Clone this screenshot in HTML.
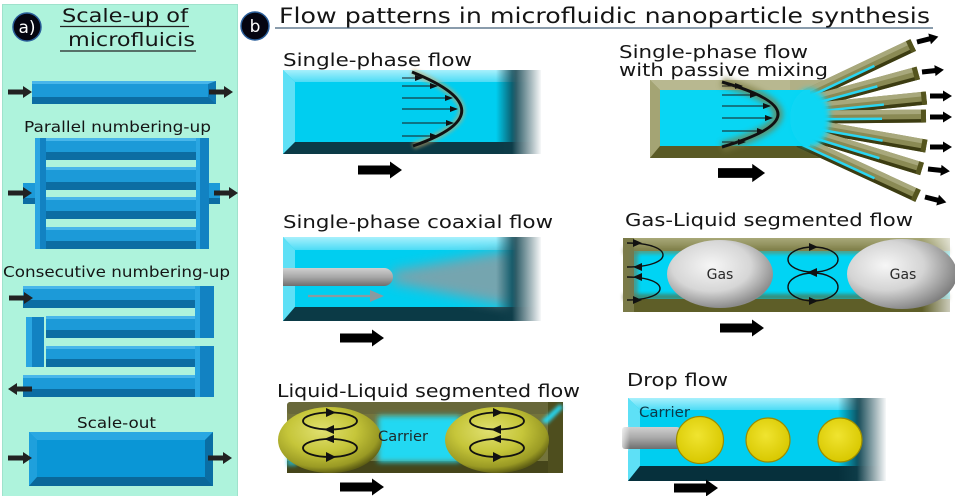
<!DOCTYPE html>
<html><head><meta charset="utf-8">
<style>
html,body{margin:0;padding:0;background:#fff;width:955px;height:496px;overflow:hidden}
svg{display:block}
text{font-family:"DejaVu Sans","Liberation Sans",sans-serif;fill:#151515}
</style></head><body>
<svg width="955" height="496" viewBox="0 0 955 496" xmlns="http://www.w3.org/2000/svg">
<defs>
 <path id="arrS" d="M0,-2.5 H15 V-6 L24,0 L15,6 V2.5 H0 Z" fill="#222"/>
 <path id="arrB" d="M0,-4.5 H32 V-8.5 L44,0 L32,8.5 V4.5 H0 Z" fill="#000"/>
 <path id="arrF" d="M0,-2.5 H13 V-5.5 L22,0 L13,5.5 V2.5 H0 Z" fill="#000"/>
 <marker id="mh" markerWidth="8" markerHeight="6" refX="7" refY="3" orient="auto" markerUnits="userSpaceOnUse"><path d="M0,0 L8,3 L0,6 Z" fill="#111"/></marker>
 <linearGradient id="fadeR" x1="0" x2="1"><stop offset="0" stop-color="#fff" stop-opacity="0"/><stop offset="1" stop-color="#fff" stop-opacity="1"/></linearGradient>
 <linearGradient id="darkEnd" x1="0" x2="1"><stop offset="0" stop-color="#0f3e4a" stop-opacity="0"/><stop offset="0.4" stop-color="#0f3e4a" stop-opacity="0.95"/><stop offset="1" stop-color="#0f3e4a" stop-opacity="1"/></linearGradient>
 <linearGradient id="cyTop" x1="0" y1="0" x2="0" y2="1"><stop offset="0" stop-color="#a8f0fc"/><stop offset="1" stop-color="#4cdcf6"/></linearGradient>
 <linearGradient id="tube" x1="0" y1="0" x2="0" y2="1"><stop offset="0" stop-color="#d0d0d0"/><stop offset="0.5" stop-color="#a8a8a8"/><stop offset="1" stop-color="#6e6e6e"/></linearGradient>
 <linearGradient id="olTop" x1="0" y1="0" x2="0" y2="1"><stop offset="0" stop-color="#a8a878"/><stop offset="1" stop-color="#80804a"/></linearGradient>
 <radialGradient id="gas" cx="0.42" cy="0.38" r="0.62"><stop offset="0" stop-color="#f6f6f6"/><stop offset="0.6" stop-color="#d6d6d6"/><stop offset="1" stop-color="#8c8c8c"/></radialGradient>
 <radialGradient id="gas2" cx="0.35" cy="0.38" r="0.7"><stop offset="0" stop-color="#f6f6f6"/><stop offset="0.5" stop-color="#d4d4d4"/><stop offset="1" stop-color="#7a7a7a"/></radialGradient>
 <radialGradient id="ball" cx="0.42" cy="0.36" r="0.65"><stop offset="0" stop-color="#e0e070"/><stop offset="0.5" stop-color="#c6c63a"/><stop offset="0.85" stop-color="#9a9a24"/><stop offset="1" stop-color="#5e5e14"/></radialGradient>
 <radialGradient id="drop" cx="0.45" cy="0.4" r="0.6"><stop offset="0" stop-color="#f0e430"/><stop offset="1" stop-color="#d8c800"/></radialGradient>
 <linearGradient id="fadeL" x1="0" x2="1"><stop offset="0" stop-color="#fff" stop-opacity="1"/><stop offset="1" stop-color="#fff" stop-opacity="0"/></linearGradient>
 <filter id="bl3" x="-50%" y="-50%" width="200%" height="200%"><feGaussianBlur stdDeviation="3"/></filter>
 <filter id="bl6" x="-50%" y="-50%" width="200%" height="200%"><feGaussianBlur stdDeviation="6"/></filter>
 <filter id="bl2" x="-50%" y="-50%" width="200%" height="200%"><feGaussianBlur stdDeviation="1.8"/></filter>
</defs>

<rect width="955" height="496" fill="#fff"/>

<!-- ============ PANEL A ============ -->
<rect x="2.5" y="4.5" width="235" height="492" fill="#aef3dc" stroke="#9fe2cc" stroke-width="1"/>
<circle cx="27" cy="27" r="14" fill="#050510" stroke="#2a5e9a" stroke-width="1.5"/>
<text x="27" y="33" font-size="17" text-anchor="middle" style="fill:#fff">a)</text>
<text x="62" y="22" font-size="19" textLength="126" lengthAdjust="spacingAndGlyphs">Scale-up of</text>
<line x1="60" y1="26.5" x2="189" y2="26.5" stroke="#222" stroke-width="1.3"/>
<text x="68" y="46" font-size="19" textLength="127" lengthAdjust="spacingAndGlyphs">microfluicis</text>
<line x1="60" y1="51" x2="196" y2="51" stroke="#222" stroke-width="1.3"/>

<!-- single channel -->
<rect x="32" y="81" width="184" height="23" fill="#1c9ad8"/>
<rect x="32" y="81" width="184" height="3" fill="#48b6ea"/>
<rect x="32" y="97" width="184" height="7" fill="#0c6da3"/>
<polygon points="208,84 216,81 216,104 208,97" fill="#0e78b3"/>
<use href="#arrS" transform="translate(8,92)"/>
<use href="#arrS" transform="translate(209,92)"/>

<text x="24" y="132" font-size="15" textLength="187" lengthAdjust="spacingAndGlyphs">Parallel numbering-up</text>
<!-- parallel -->
<g>
 <rect x="23" y="183" width="12" height="21" fill="#1c9ad8"/><rect x="23" y="198" width="12" height="6" fill="#0c6da3"/>
 <rect x="209" y="183" width="11" height="21" fill="#1c9ad8"/><rect x="209" y="198" width="11" height="6" fill="#0c6da3"/>
 <rect x="46" y="138" width="150" height="22" fill="#1c9ad8"/><rect x="46" y="138" width="150" height="3" fill="#48b6ea"/><rect x="46" y="152" width="150" height="8" fill="#0c6da3"/>
 <rect x="46" y="167" width="150" height="23" fill="#1c9ad8"/><rect x="46" y="167" width="150" height="3" fill="#48b6ea"/><rect x="46" y="182" width="150" height="8" fill="#0c6da3"/>
 <rect x="46" y="197" width="150" height="22" fill="#1c9ad8"/><rect x="46" y="197" width="150" height="3" fill="#48b6ea"/><rect x="46" y="211" width="150" height="8" fill="#0c6da3"/>
 <rect x="46" y="227" width="150" height="22" fill="#1c9ad8"/><rect x="46" y="227" width="150" height="3" fill="#48b6ea"/><rect x="46" y="241" width="150" height="8" fill="#0c6da3"/>
 <rect x="35" y="138" width="11" height="111" fill="#1282c2"/><rect x="35" y="138" width="5" height="111" fill="#2aa6e2"/>
 <rect x="196" y="138" width="13" height="111" fill="#1282c2"/><rect x="196" y="138" width="4" height="111" fill="#2aa6e2"/>
</g>
<use href="#arrS" transform="translate(8,193)"/>
<use href="#arrS" transform="translate(214,193)"/>

<text x="3" y="277" font-size="15" textLength="227" lengthAdjust="spacingAndGlyphs">Consecutive numbering-up</text>
<!-- consecutive -->
<g>
 <rect x="23" y="286" width="172" height="22" fill="#1c9ad8"/><rect x="23" y="286" width="172" height="3" fill="#48b6ea"/><rect x="23" y="300" width="172" height="8" fill="#0c6da3"/>
 <rect x="46" y="316" width="149" height="22" fill="#1c9ad8"/><rect x="46" y="316" width="149" height="3" fill="#48b6ea"/><rect x="46" y="330" width="149" height="8" fill="#0c6da3"/>
 <rect x="46" y="346" width="149" height="21" fill="#1c9ad8"/><rect x="46" y="346" width="149" height="3" fill="#48b6ea"/><rect x="46" y="359" width="149" height="8" fill="#0c6da3"/>
 <rect x="23" y="375" width="172" height="22" fill="#1c9ad8"/><rect x="23" y="375" width="172" height="3" fill="#48b6ea"/><rect x="23" y="389" width="172" height="8" fill="#0c6da3"/>
 <rect x="195" y="286" width="19" height="52" fill="#1282c2"/><rect x="195" y="286" width="5" height="52" fill="#2aa6e2"/>
 <rect x="195" y="346" width="19" height="51" fill="#1282c2"/><rect x="195" y="346" width="5" height="51" fill="#2aa6e2"/>
 <rect x="26" y="317" width="18" height="50" fill="#1282c2"/><rect x="26" y="317" width="6" height="50" fill="#2aa6e2"/>
</g>
<use href="#arrS" transform="translate(9,298)"/>
<use href="#arrS" transform="translate(32,389) scale(-1,1)"/>

<text x="77" y="428" font-size="15" textLength="79" lengthAdjust="spacingAndGlyphs">Scale-out</text>
<!-- scale-out -->
<g>
 <rect x="29" y="432" width="184" height="54" fill="#0a96d6"/>
 <polygon points="29,432 213,432 205,440 37,440" fill="#2aa8e2"/>
 <polygon points="29,432 37,440 37,477 29,486" fill="#1fa0dc"/>
 <polygon points="29,486 37,477 205,477 213,486" fill="#0a689a"/>
 <polygon points="213,432 205,440 205,477 213,486" fill="#0a6ea4"/>
</g>
<use href="#arrS" transform="translate(8,458)"/>
<use href="#arrS" transform="translate(208,458)"/>

<!-- ============ PANEL B ============ -->
<circle cx="255" cy="26" r="14" fill="#050510" stroke="#2a5e9a" stroke-width="1.5"/>
<text x="255" y="32" font-size="17" text-anchor="middle" style="fill:#fff">b</text>
<text x="279" y="23" font-size="21" textLength="651" lengthAdjust="spacingAndGlyphs">Flow patterns in microfluidic nanoparticle synthesis</text>
<line x1="275" y1="28" x2="933" y2="28" stroke="#44607a" stroke-width="1.3"/>

<!-- Single-phase flow -->
<text x="283" y="66" font-size="18" textLength="189" lengthAdjust="spacingAndGlyphs">Single-phase flow</text>
<g>
 <rect x="283" y="70" width="262" height="84" fill="#00cef0"/>
 <polygon points="283,70 545,70 545,82 295,82" fill="url(#cyTop)"/>
 <polygon points="283,70 295,82 295,142 283,154" fill="#5ee0f6"/>
 <polygon points="283,154 295,142 545,142 545,154" fill="#0b3a46"/>
 <rect x="496" y="70" width="50" height="84" fill="url(#darkEnd)"/>
 <rect x="512" y="66" width="30" height="92" fill="url(#fadeR)"/>
 <rect x="541" y="66" width="16" height="92" fill="#fff"/>
 <path d="M412,72 Q511,112 413,146" fill="none" stroke="#c8a868" stroke-width="7" opacity="0.6" filter="url(#bl2)"/>
 <path d="M412,72 Q511,112 413,146" fill="none" stroke="#111" stroke-width="3"/>
 <g stroke="#1a1a1a" stroke-width="1" marker-end="url(#mh)">
  <line x1="402" y1="78" x2="422" y2="78"/>
  <line x1="402" y1="86" x2="437" y2="86"/>
  <line x1="402" y1="98" x2="452" y2="98"/>
  <line x1="402" y1="109" x2="457" y2="109"/>
  <line x1="402" y1="123" x2="453" y2="123"/>
  <line x1="402" y1="136" x2="437" y2="136"/>
 </g>
</g>
<use href="#arrB" transform="translate(358,170)"/>

<!-- Single-phase flow with passive mixing -->
<text x="619" y="58" font-size="18" textLength="189" lengthAdjust="spacingAndGlyphs">Single-phase flow</text>
<text x="619" y="76" font-size="18" textLength="209" lengthAdjust="spacingAndGlyphs">with passive mixing</text>
<g>
 <rect x="650" y="80" width="165" height="78" fill="#8c8c58"/>
 <polygon points="650,80 815,80 805,90 660,90" fill="#b8b890"/>
 <polygon points="650,80 660,90 660,146 650,158" fill="#a4a474"/>
 <polygon points="650,158 660,146 815,146 815,158" fill="#5a5a26"/>
 <polygon points="790,80 824,80 809,88 790,92" fill="#b0b086"/>
 <polygon points="790,145 807,152 821,158 790,158" fill="#5a5a26"/>
 <!-- branches -->
 <g transform="translate(812,93) rotate(-25.4)"><rect x="-12" y="-6.5" width="124" height="13" fill="#8a8a54"/><rect x="-12" y="-6.5" width="124" height="4.5" fill="#a8a87c"/><rect x="-12" y="3" width="124" height="3.5" fill="#3c3c12"/><rect x="-12" y="1" width="80" height="2.5" fill="#2ad6f2"/><rect x="107" y="-6.5" width="5" height="13" fill="#54541e"/></g>
 <g transform="translate(815,101) rotate(-15.2)"><rect x="-12" y="-6.5" width="119" height="13" fill="#8a8a54"/><rect x="-12" y="-6.5" width="119" height="4.5" fill="#a8a87c"/><rect x="-12" y="3" width="119" height="3.5" fill="#3c3c12"/><rect x="-12" y="1" width="76" height="2.5" fill="#2ad6f2"/><rect x="102" y="-6.5" width="5" height="13" fill="#54541e"/></g>
 <g transform="translate(818,109) rotate(-5.8)"><rect x="-12" y="-6.5" width="121" height="13" fill="#8a8a54"/><rect x="-12" y="-6.5" width="121" height="4.5" fill="#a8a87c"/><rect x="-12" y="3" width="121" height="3.5" fill="#3c3c12"/><rect x="-12" y="1" width="78" height="2.5" fill="#2ad6f2"/><rect x="104" y="-6.5" width="5" height="13" fill="#54541e"/></g>
 <g transform="translate(818,117) rotate(-0.5)"><rect x="-12" y="-6.5" width="120" height="13" fill="#8a8a54"/><rect x="-12" y="-6.5" width="120" height="4.5" fill="#a8a87c"/><rect x="-12" y="3" width="120" height="3.5" fill="#3c3c12"/><rect x="-12" y="1" width="76" height="2.5" fill="#2ad6f2"/><rect x="103" y="-6.5" width="5" height="13" fill="#54541e"/></g>
 <g transform="translate(818,127) rotate(10)"><rect x="-12" y="-6.5" width="122" height="13" fill="#8a8a54"/><rect x="-12" y="-6.5" width="122" height="4.5" fill="#a8a87c"/><rect x="-12" y="3" width="122" height="3.5" fill="#3c3c12"/><rect x="-12" y="1" width="78" height="2.5" fill="#2ad6f2"/><rect x="105" y="-6.5" width="5" height="13" fill="#54541e"/></g>
 <g transform="translate(815,136) rotate(17.1)"><rect x="-12" y="-6.5" width="124" height="13" fill="#8a8a54"/><rect x="-12" y="-6.5" width="124" height="4.5" fill="#a8a87c"/><rect x="-12" y="3" width="124" height="3.5" fill="#3c3c12"/><rect x="-12" y="1" width="80" height="2.5" fill="#2ad6f2"/><rect x="107" y="-6.5" width="5" height="13" fill="#54541e"/></g>
 <g transform="translate(810,146) rotate(24.8)"><rect x="-12" y="-6.5" width="131" height="13" fill="#8a8a54"/><rect x="-12" y="-6.5" width="131" height="4.5" fill="#a8a87c"/><rect x="-12" y="3" width="131" height="3.5" fill="#3c3c12"/><rect x="-12" y="1" width="84" height="2.5" fill="#2ad6f2"/><rect x="114" y="-6.5" width="5" height="13" fill="#54541e"/></g>
 <rect x="660" y="90" width="150" height="56" fill="#08d6f4"/>
 <ellipse cx="810" cy="118" rx="20" ry="29" fill="#08d6f4" filter="url(#bl3)"/>
 <path d="M722,82 Q834,114 722,147" fill="none" stroke="#7a7a40" stroke-width="10" opacity="0.7" filter="url(#bl3)"/>
 <path d="M722,82 Q834,114 722,147" fill="none" stroke="#111" stroke-width="3"/>
 <g stroke="#1a1a1a" stroke-width="1" marker-end="url(#mh)">
  <line x1="722" y1="86" x2="742" y2="86"/>
  <line x1="722" y1="95" x2="757" y2="95"/>
  <line x1="722" y1="106" x2="770" y2="106"/>
  <line x1="722" y1="118" x2="772" y2="118"/>
  <line x1="722" y1="131" x2="764" y2="131"/>
  <line x1="722" y1="142" x2="745" y2="142"/>
 </g>
</g>
<use href="#arrF" transform="translate(917,42) rotate(-14)"/>
<use href="#arrF" transform="translate(922,72) rotate(-6)"/>
<use href="#arrF" transform="translate(930,96)"/>
<use href="#arrF" transform="translate(930,117)"/>
<use href="#arrF" transform="translate(930,147)"/>
<use href="#arrF" transform="translate(928,169) rotate(6)"/>
<use href="#arrF" transform="translate(925,197) rotate(14)"/>
<use href="#arrB" transform="translate(718,173) scale(1.07)"/>

<!-- Single-phase coaxial flow -->
<text x="283" y="228" font-size="18" textLength="270" lengthAdjust="spacingAndGlyphs">Single-phase coaxial flow</text>
<g>
 <rect x="283" y="237" width="262" height="84" fill="#00cef0"/>
 <polygon points="283,237 545,237 545,250 295,250" fill="url(#cyTop)"/>
 <polygon points="283,237 295,250 295,307 283,321" fill="#5ee0f6"/>
 <polygon points="283,321 295,307 545,307 545,321" fill="#0b3a46"/>
 <polygon points="392,271 392,283 512,306 512,250" fill="#8a9ea4" opacity="0.85" filter="url(#bl6)"/>
 <rect x="496" y="237" width="50" height="84" fill="url(#darkEnd)"/>
 <rect x="512" y="233" width="30" height="92" fill="url(#fadeR)"/>
 <rect x="541" y="233" width="16" height="92" fill="#fff"/>
 <path d="M283,268 H384 A9,9 0 0 1 384,286 H283 Z" fill="url(#tube)"/>
 <line x1="308" y1="296" x2="372" y2="296" stroke="#8a9aa0" stroke-width="2.2"/>
 <polygon points="370,290 384,296 370,302" fill="#8a9aa0"/>
</g>
<use href="#arrB" transform="translate(340,338)"/>

<!-- Gas-Liquid segmented flow -->
<text x="625" y="226" font-size="18" textLength="288" lengthAdjust="spacingAndGlyphs">Gas-Liquid segmented flow</text>
<g>
 <rect x="623" y="238" width="327" height="74" fill="#00d4f4"/>
 <rect x="623" y="238" width="327" height="13" fill="url(#olTop)"/>
 <rect x="623" y="248" width="327" height="6" fill="#80804a" opacity="0.6" filter="url(#bl2)"/>
 <rect x="623" y="299" width="327" height="13" fill="#5e5e28"/>
 <rect x="623" y="294" width="327" height="6" fill="#5e5e28" opacity="0.6" filter="url(#bl2)"/>
 <rect x="623" y="238" width="11" height="74" fill="#7a7a48"/>
 <rect x="630" y="250" width="8" height="48" fill="#6a7a58" opacity="0.6" filter="url(#bl2)"/>
 <rect x="922" y="234" width="33" height="82" fill="url(#fadeR)" opacity="0.8"/>
 <ellipse cx="720" cy="274" rx="53" ry="34" fill="url(#gas)"/>
 <ellipse cx="902" cy="274" rx="55" ry="35" fill="url(#gas2)"/>
 <text x="720" y="279" font-size="14" text-anchor="middle" style="fill:#2a2a2a">Gas</text>
 <text x="903" y="279" font-size="14" text-anchor="middle" style="fill:#2a2a2a">Gas</text>
 <g fill="none" stroke="#111" stroke-width="1.4">
  <path d="M627,243 C675,243 675,267 627,267"/>
  <path d="M627,277 C671,277 671,300 627,300"/>
  <ellipse cx="813" cy="259.5" rx="25" ry="12.5"/>
  <ellipse cx="813" cy="287" rx="25" ry="14"/>
 </g>
 <g fill="#111">
  <polygon points="633,239 642,243 633,247"/>
  <polygon points="642,263 633,267 642,271"/>
  <polygon points="642,273 633,277 642,281"/>
  <polygon points="633,296 642,300 633,304"/>
  <polygon points="809,243 818,247 809,251"/>
  <polygon points="817,268 808,272 817,276"/>
  <polygon points="817,269 808,273 817,277"/>
  <polygon points="809,297 818,301 809,305"/>
 </g>
</g>
<use href="#arrB" transform="translate(720,328)"/>

<!-- Liquid-Liquid segmented flow -->
<text x="277" y="397" font-size="18" textLength="303" lengthAdjust="spacingAndGlyphs">Liquid-Liquid segmented flow</text>
<g>
 <rect x="287" y="402" width="276" height="71" rx="4" fill="#74743c"/>
 <rect x="287" y="402" width="276" height="12" rx="3" fill="#68683a"/>
 <rect x="287" y="461" width="276" height="12" fill="#45451a"/>
 <rect x="378" y="416" width="82" height="46" fill="#20d8f2" filter="url(#bl3)"/>
 <rect x="548" y="402" width="15" height="71" fill="#4e4e1e"/>
 <polygon points="541,421 560,404 563,408 547,424" fill="#28d4ee" filter="url(#bl2)"/>
 <rect x="287" y="452" width="10" height="14" fill="#28c8e0" opacity="0.7" filter="url(#bl2)"/>
 <ellipse cx="330" cy="440" rx="52" ry="33" fill="url(#ball)"/>
 <ellipse cx="497" cy="440" rx="52" ry="33" fill="url(#ball)"/>
 <text x="378" y="441" font-size="14" textLength="50" lengthAdjust="spacingAndGlyphs" style="fill:#1e2a2a">Carrier</text>
 <g fill="none" stroke="#111" stroke-width="1.8">
  <ellipse cx="330" cy="421" rx="27" ry="8.5"/>
  <ellipse cx="330" cy="448" rx="27" ry="9"/>
  <ellipse cx="497" cy="421" rx="27" ry="8.5"/>
  <ellipse cx="497" cy="448" rx="27" ry="9"/>
 </g>
 <g fill="#111">
  <polygon points="326,408 336,412.5 326,417"/>
  <polygon points="334,425 324,429.5 334,434"/>
  <polygon points="334,435 324,439 334,443"/>
  <polygon points="326,452 336,457 326,462"/>
  <polygon points="493,408 503,412.5 493,417"/>
  <polygon points="501,425 491,429.5 501,434"/>
  <polygon points="501,435 491,439 501,443"/>
  <polygon points="493,452 503,457 493,462"/>
 </g>
</g>
<use href="#arrB" transform="translate(340,487)"/>

<!-- Drop flow -->
<text x="627" y="386" font-size="18" textLength="101" lengthAdjust="spacingAndGlyphs">Drop flow</text>
<g>
 <rect x="628" y="398" width="262" height="83" fill="#00cef0"/>
 <polygon points="628,398 890,398 890,410 640,410" fill="url(#cyTop)"/>
 <polygon points="628,398 640,410 640,466 628,481" fill="#5ee0f6"/>
 <polygon points="628,481 640,466 890,466 890,481" fill="#06303c"/>
 <rect x="838" y="398" width="55" height="83" fill="url(#darkEnd)"/>
 <rect x="857" y="394" width="30" height="91" fill="url(#fadeR)"/>
 <rect x="886" y="394" width="16" height="91" fill="#fff"/>
 <text x="639" y="417" font-size="14" textLength="51" lengthAdjust="spacingAndGlyphs" style="fill:#0c3848">Carrier</text>
 <rect x="622" y="427" width="58" height="22" rx="3" fill="url(#tube)"/>
 <rect x="618" y="425" width="12" height="26" fill="url(#fadeL)"/>
 <g fill="url(#drop)" stroke="#9a8c00" stroke-width="1.2">
  <circle cx="700" cy="440" r="23.5"/>
  <circle cx="768" cy="440" r="22"/>
  <circle cx="840" cy="440" r="22"/>
 </g>
</g>
<use href="#arrB" transform="translate(674,488)"/>
</svg>
</body></html>
